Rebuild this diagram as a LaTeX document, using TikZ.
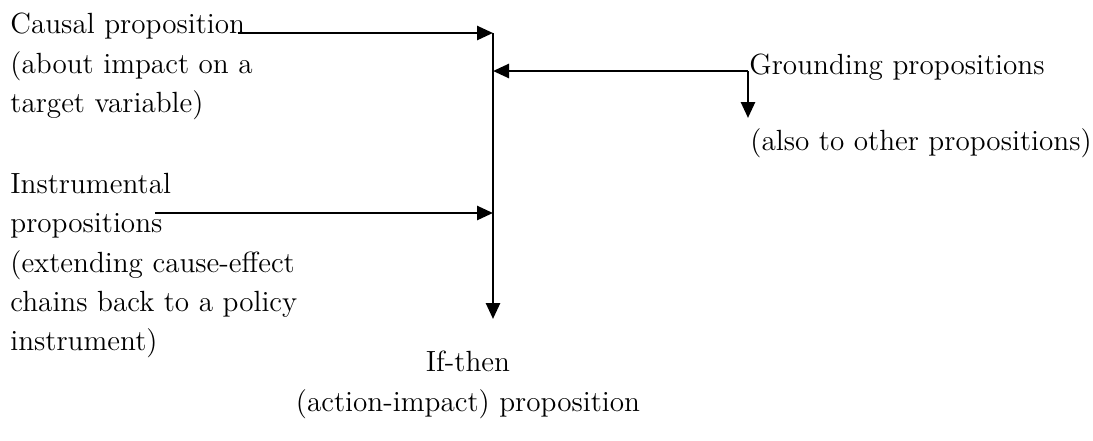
\documentclass[tikz,border=0pt]{standalone}
\usetikzlibrary{arrows.meta}
\begin{document}
\begin{tikzpicture}[x=0.5pt,y=-0.5pt,
  txt/.style={inner sep=0pt,font=\fontsize{14.6}{19.6}\selectfont},
  link/.style={line width=1.3pt,-{Triangle[length=8pt,width=7pt]}}]
\useasboundingbox (0,0) rectangle (1093,440);
% text nodes
\node[txt,align=left,anchor=north west] (causal) at (10,13)
  {Causal proposition\\(about impact on a\\target variable)};
\node[txt,align=left,anchor=north west] (instr) at (10,173)
  {Instrumental\\propositions\\(extending cause-effect\\chains back to a policy\\instrument)};
\node[txt,anchor=base west] (ground) at (749,74) {Grounding propositions};
\node[txt,anchor=base west] (also) at (750,150) {(also to other propositions)};
\node[txt,align=center,anchor=north] (ifthen) at (468,351)
  {If-then\\(action-impact) proposition};
% junction coordinates
\coordinate (cstart) at (238,33);
\coordinate (top) at (493,33);
\coordinate (gjoin) at (493,71);
\coordinate (gstart) at (748,71);
\coordinate (gdown) at (748,118);
\coordinate (istart) at (155,213);
\coordinate (ijoin) at (493,213);
\coordinate (bot) at (493,319);
% connectors
\draw[link] (cstart) -- (top);
\draw[link] (top) -- (bot);
\draw[link] (gstart) -- (gjoin);
\draw[link] (gstart) -- (gdown);
\draw[link] (istart) -- (ijoin);
\end{tikzpicture}
\end{document}
